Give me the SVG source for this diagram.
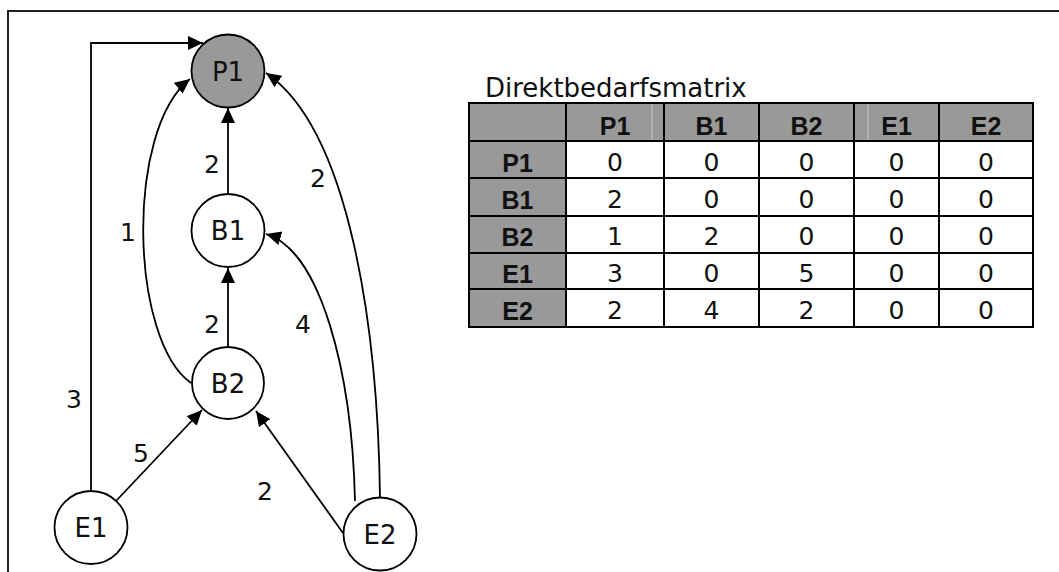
<svg xmlns="http://www.w3.org/2000/svg" width="1059" height="572" viewBox="0 0 1059 572">
  <style>
    .node circle { stroke: #000; stroke-width: 1.8; fill: #fff; }
    .node.dark circle { fill: #999999; }
    .node text { font-family: "DejaVu Sans", sans-serif; font-size: 26px; text-anchor: middle; fill: #111; }
    .edge { fill: none; stroke: #000; stroke-width: 1.8; marker-end: url(#arrow); }
    .elabel { font-family: "DejaVu Sans", sans-serif; font-size: 25px; text-anchor: middle; fill: #111; }
    .title { font-family: "DejaVu Sans", sans-serif; font-size: 26px; fill: #111; }
    .hdr { fill: #999999; }
    .grid { stroke: #000; stroke-width: 2; fill: none; }
    .faint { stroke: #c8c8c8; stroke-width: 1; }
    .th { font-family: "Liberation Sans", Arial, sans-serif; font-weight: bold; font-size: 25px; text-anchor: middle; fill: #111; }
    .td { font-family: "DejaVu Sans", sans-serif; font-size: 25px; text-anchor: middle; fill: #111; }
  </style>
  <defs>
    <marker id="arrow" markerUnits="userSpaceOnUse" markerWidth="18" markerHeight="16" refX="15" refY="7" orient="auto">
      <path d="M0,0 L15,7 L0,14 z" fill="#000"/>
    </marker>
  </defs>
  <rect x="0" y="0" width="1059" height="572" fill="#fff"/>
  <!-- outer frame -->
  <path d="M1060,11 H8 V573" fill="none" stroke="#222" stroke-width="2"/>

  <g id="connectors">
    <path class="edge" d="M91,491 V43 H203"/>
    <path class="edge" d="M228,194 V108"/>
    <path class="edge" d="M228,347 V268"/>
    <path class="edge" d="M191,383 C130,340 125,130 190,79"/>
    <path class="edge" d="M380,498 C378,330 350,130 266,73"/>
    <path class="edge" d="M355,501 C352,370 320,250 266,234"/>
    <path class="edge" d="M116,501 L202,410"/>
    <path class="edge" d="M343,533 L256,411"/>
    <text class="elabel" x="212" y="173">2</text>
    <text class="elabel" x="318" y="187">2</text>
    <text class="elabel" x="128" y="241">1</text>
    <text class="elabel" x="212" y="333">2</text>
    <text class="elabel" x="303" y="333">4</text>
    <text class="elabel" x="74" y="408">3</text>
    <text class="elabel" x="141" y="462">5</text>
    <text class="elabel" x="265" y="500">2</text>
  </g>

  <g id="P1" class="node dark">
    <circle cx="228" cy="71" r="36.5"/>
    <text x="228" y="81">P1</text>
  </g>
  <g id="B1" class="node">
    <circle cx="228" cy="230.5" r="36.5"/>
    <text x="228" y="240">B1</text>
  </g>
  <g id="B2" class="node">
    <circle cx="228" cy="383" r="36"/>
    <text x="228" y="393">B2</text>
  </g>
  <g id="E1" class="node">
    <circle cx="91" cy="527.5" r="36.5"/>
    <text x="91" y="537">E1</text>
  </g>
  <g id="E2" class="node">
    <circle cx="380" cy="534" r="36.5"/>
    <text x="380" y="544">E2</text>
  </g>

  <g id="matrix">
    <text class="title" x="485" y="97">Direktbedarfsmatrix</text>
    <rect class="hdr" x="469" y="103" width="564" height="38"/>
    <rect class="hdr" x="469" y="141" width="97" height="186"/>
    <line class="faint" x1="652" y1="104" x2="652" y2="140"/>
    <line class="faint" x1="868" y1="104" x2="868" y2="140"/>
    <g class="grid">
      <rect x="469" y="103" width="564" height="224"/>
      <path d="M469,141 H1033 M469,178 H1033 M469,216 H1033 M469,253 H1033 M469,289 H1033"/>
      <path d="M566,103 V327 M664,103 V327 M759,103 V327 M854,103 V327 M939,103 V327"/>
    </g>
    <text class="th" x="615" y="135">P1</text>
    <text class="th" x="711.5" y="135">B1</text>
    <text class="th" x="806.5" y="135">B2</text>
    <text class="th" x="896.5" y="135">E1</text>
    <text class="th" x="986" y="135">E2</text>

    <text class="th" x="517.5" y="172">P1</text>
    <text class="th" x="517.5" y="209">B1</text>
    <text class="th" x="517.5" y="246">B2</text>
    <text class="th" x="517.5" y="283">E1</text>
    <text class="th" x="517.5" y="320">E2</text>

    <g>
      <text class="td" x="615" y="171">0</text><text class="td" x="711.5" y="171">0</text><text class="td" x="806.5" y="171">0</text><text class="td" x="896.5" y="171">0</text><text class="td" x="986" y="171">0</text>
      <text class="td" x="615" y="208">2</text><text class="td" x="711.5" y="208">0</text><text class="td" x="806.5" y="208">0</text><text class="td" x="896.5" y="208">0</text><text class="td" x="986" y="208">0</text>
      <text class="td" x="615" y="245">1</text><text class="td" x="711.5" y="245">2</text><text class="td" x="806.5" y="245">0</text><text class="td" x="896.5" y="245">0</text><text class="td" x="986" y="245">0</text>
      <text class="td" x="615" y="282">3</text><text class="td" x="711.5" y="282">0</text><text class="td" x="806.5" y="282">5</text><text class="td" x="896.5" y="282">0</text><text class="td" x="986" y="282">0</text>
      <text class="td" x="615" y="319">2</text><text class="td" x="711.5" y="319">4</text><text class="td" x="806.5" y="319">2</text><text class="td" x="896.5" y="319">0</text><text class="td" x="986" y="319">0</text>
    </g>
  </g>
</svg>
